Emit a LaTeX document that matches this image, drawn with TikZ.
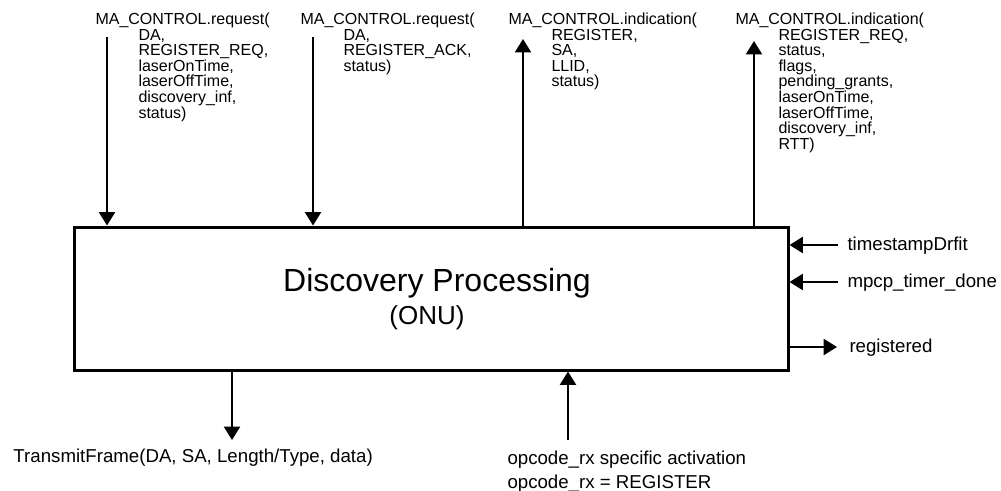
\documentclass[tikz,border=0pt]{standalone}
\usepackage{fontspec}
\setmainfont{Liberation Sans}
\usetikzlibrary{arrows.meta}
\tikzset{every picture/.style={line width=0.75pt}}
\tikzset{
	sig/.style={line width=1.5, -{Triangle[width=12pt,length=10pt]}},
	parm/.style={inner sep=0pt, anchor=north west, align=left, font=\fontsize{12}{11.7}\selectfont},
	sigtxt/.style={inner sep=0pt, anchor=base west, align=left, font=\fontsize{14}{18}\selectfont},
	procbox/.style={draw, line width=2.25, minimum width=535.5pt, minimum height=107.25pt},
	ttl/.style={inner sep=0pt, anchor=base, font=\fontsize{24}{28}\selectfont}
}
\newcommand{\argind}{\hspace*{32.25pt}}

\begin{document}
\begin{tikzpicture}[x=0.75pt,y=0.75pt,yscale=-1,xscale=1]
		\useasboundingbox (0,0) rectangle (1001,490);
		
		%Shape: Rectangle [id:procbox]
		\node [procbox] (disc) at (431,298.5) {};
		%Text Node
		\node [ttl] (discttl) at (437,291.5) {Discovery Processing};
		%Text Node
		\node [ttl, font=\fontsize{19.5}{24}\selectfont] (onuttl) at (427,324) {(ONU)};
		
		%Text Node
		\node [parm] (rqreq) at (95,12.5) {MA\_CONTROL.request(\\\argind DA,\\\argind REGISTER\_REQ,\\\argind laserOnTime,\\\argind laserOffTime,\\\argind discovery\_inf,\\\argind status)};
		%Text Node
		\node [parm] (rqack) at (300,12.5) {MA\_CONTROL.request(\\\argind DA,\\\argind REGISTER\_ACK,\\\argind status)};
		%Text Node
		\node [parm] (indreg) at (508,12.5) {MA\_CONTROL.indication(\\\argind REGISTER,\\\argind SA,\\\argind LLID,\\\argind status)};
		%Text Node
		\node [parm] (indreq) at (735,12.5) {MA\_CONTROL.indication(\\\argind REGISTER\_REQ,\\\argind status,\\\argind flags,\\\argind pending\_grants,\\\argind laserOnTime,\\\argind laserOffTime,\\\argind discovery\_inf,\\\argind RTT)};
		
		%Text Node
		\node [sigtxt] (tsd) at (847,250) {timestampDrfit};
		%Text Node
		\node [sigtxt] (tmr) at (847,287) {mpcp\_timer\_done};
		%Text Node
		\node [sigtxt] (reg) at (849,352) {registered};
		%Text Node
		\node [sigtxt] (txf) at (13,462) {TransmitFrame(DA, SA, Length/Type, data)};
		%Text Node
		\node [sigtxt, anchor=north west] (opc) at (507,450) {opcode\_rx specific activation\\opcode\_rx = REGISTER};
		
		%Straight Lines [id:rqreq]
		\coordinate (rqreqin) at (107,37);
		\draw [sig] (rqreqin) -- (rqreqin |- disc.north);
		%Straight Lines [id:rqack]
		\coordinate (rqackin) at (313,37);
		\draw [sig] (rqackin) -- (rqackin |- disc.north);
		%Straight Lines [id:indreg]
		\coordinate (indregout) at (523,39);
		\draw [sig] (indregout |- disc.north) -- (indregout);
		%Straight Lines [id:indreq]
		\coordinate (indreqout) at (754,41);
		\draw [sig] (indreqout |- disc.north) -- (indreqout);
		
		%Straight Lines [id:tsd]
		\coordinate (tsdin) at (838,245);
		\draw [sig] (tsdin) -- (tsdin -| disc.east);
		%Straight Lines [id:tmr]
		\coordinate (tmrin) at (838,282);
		\draw [sig] (tmrin) -- (tmrin -| disc.east);
		%Straight Lines [id:reg]
		\coordinate (regout) at (837,347);
		\draw [sig] (regout -| disc.east) -- (regout);
		
		%Straight Lines [id:txf]
		\coordinate (txfout) at (232,440);
		\draw [sig] (txfout |- disc.south) -- (txfout);
		%Straight Lines [id:opc]
		\coordinate (opcin) at (568,440);
		\draw [sig] (opcin) -- (opcin |- disc.south);
		
\end{tikzpicture}
\end{document}
